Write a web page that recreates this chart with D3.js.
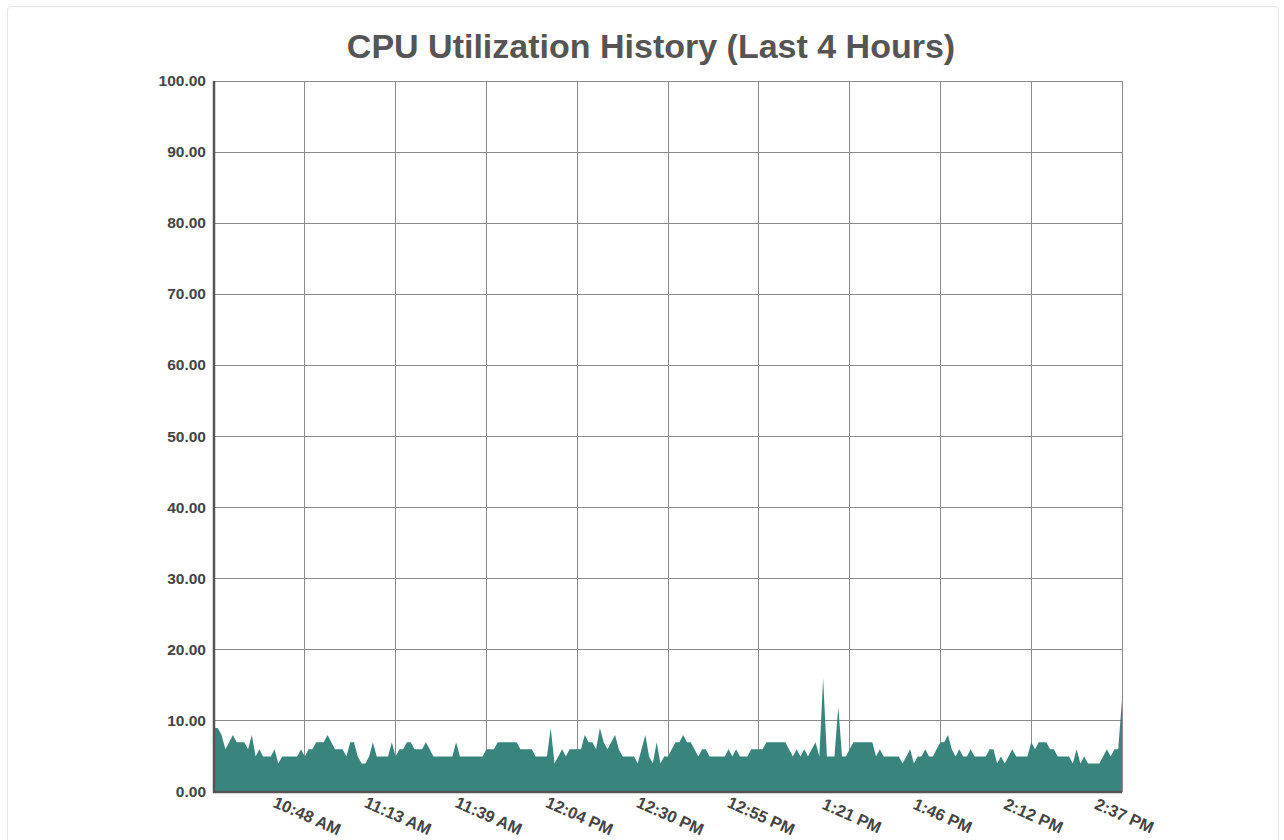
<!DOCTYPE html>
<html><head><meta charset="utf-8">
<script src="https://cdn.jsdelivr.net/npm/d3@7"></script>
<style>
html,body{margin:0;padding:0;background:#fff;}
#wrap{position:absolute;left:7px;top:6px;width:1270px;height:840px;border:1px solid #e6e6e6;border-radius:4px;}
svg{position:absolute;left:0;top:0;}
</style></head>
<body><div id="wrap"></div><svg id="chart" width="1284" height="840"></svg>
<script>
const title = "CPU Utilization History (Last 4 Hours)";
const cpuValues = [
9,9,8,6,7,8,7,7,7,6,8,5,6,5,5,5,6,4,5,5,
5,5,5,6,5,6,6,7,7,7,8,7,6,6,6,5,7,7,5,4,
4,5,7,5,5,5,5,7,5,6,6,7,7,6,6,6,7,6,5,5,
5,5,5,5,7,5,5,5,5,5,5,5,6,6,6,7,7,7,7,7,
7,6,6,6,6,5,5,5,5,9,4,5,6,5,6,6,6,6,8,7,
7,6,9,7,6,7,8,6,5,5,5,5,4,6,8,5,4,7,4,5,
5,6,7,7,8,7,7,6,5,6,6,5,5,5,5,5,6,5,6,5,
5,5,6,6,6,6,7,7,7,7,7,7,6,5,6,5,6,5,6,7,
5,16,5,5,5,12,5,5,6,7,7,7,7,7,7,5,6,5,5,5,
5,5,4,5,6,4,5,5,6,5,5,6,7,7,8,6,5,6,5,5,
6,5,5,5,5,6,6,4,5,4,5,6,5,5,5,5,7,6,7,7,
7,6,6,5,5,5,5,4,6,4,5,4,4,4,4,5,6,5,6,6,
13
];
const tickIndices = [24,48,72,96,120,144,168,192,216,240];
const tickLabels = ["10:48 AM","11:13 AM","11:39 AM","12:04 PM","12:30 PM","12:55 PM","1:21 PM","1:46 PM","2:12 PM","2:37 PM"];
const yTicks = [0,10,20,30,40,50,60,70,80,90,100];

const svg = d3.select("#chart");
const m = {left:214, right:1122, top:81, bottom:792};
const x = d3.scaleLinear().domain([0, cpuValues.length-1]).range([m.left, m.right]);
const y = d3.scaleLinear().domain([0,100]).range([m.bottom, m.top]);

svg.append("text").attr("x",651).attr("y",58).attr("text-anchor","middle")
  .attr("font-family","Liberation Sans, Arial, sans-serif").attr("font-weight","bold")
  .attr("font-size",34).attr("fill","#555").text(title);

// grid
const g = svg.append("g");
g.selectAll("line.h").data(yTicks).join("line")
  .attr("x1",m.left).attr("x2",m.right).attr("y1",d=>y(d)).attr("y2",d=>y(d))
  .attr("stroke","#8c8c8c").attr("stroke-width",1).attr("shape-rendering","crispEdges");
g.selectAll("line.v").data(tickIndices).join("line")
  .attr("x1",d=>x(d)).attr("x2",d=>x(d)).attr("y1",m.top).attr("y2",m.bottom)
  .attr("stroke","#8c8c8c").attr("stroke-width",1).attr("shape-rendering","crispEdges");

// area
const area = d3.area().x((d,i)=>x(i)).y0(y(0)).y1(d=>y(d));
svg.append("path").datum(cpuValues).attr("d",area).attr("fill","#3a847e");

// axes lines
svg.append("line").attr("x1",m.left).attr("x2",m.left).attr("y1",m.top).attr("y2",m.bottom+1)
  .attr("stroke","#555").attr("stroke-width",2.5);
svg.append("line").attr("x1",m.left-1).attr("x2",m.right).attr("y1",m.bottom).attr("y2",m.bottom)
  .attr("stroke","#555").attr("stroke-width",2.5);

// y labels
svg.append("g").selectAll("text").data(yTicks).join("text")
  .attr("x",206).attr("y",d=>y(d)+5).attr("text-anchor","end")
  .attr("font-family","Liberation Sans, Arial, sans-serif").attr("font-weight","bold")
  .attr("font-size",15.5).attr("fill","#444").text(d=>d3.format(".2f")(d));

// x labels
svg.append("g").selectAll("text").data(tickIndices).join("text")
  .attr("transform",(d)=>`translate(${x(d)},${821}) rotate(24)`)
  .attr("text-anchor","middle")
  .attr("font-family","Liberation Sans, Arial, sans-serif").attr("font-weight","bold")
  .attr("font-size",16.5).attr("fill","#444").text((d,i)=>tickLabels[i]);
</script></body></html>
